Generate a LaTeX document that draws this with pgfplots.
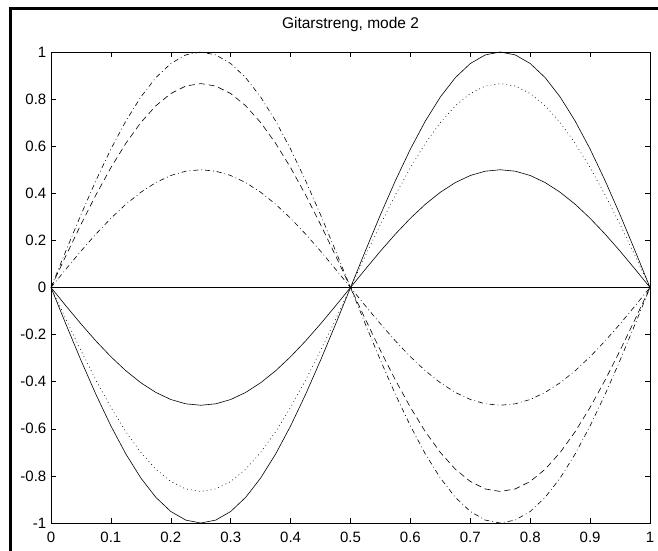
\documentclass[border=0pt]{standalone}
\usepackage{fontspec}
\setmainfont{Liberation Sans}
\usepackage{pgfplots}
\usepackage{pgfplotstable}
\pgfplotsset{compat=1.18}

% Mode 2 of a vibrating string: y = A*sin(2*pi*x) for several amplitudes
% columns: x, +1, +0.866, +0.5, -1, -0.866, -0.5 (times sin(2 pi x))
\pgfplotstableread{
x      a       b       c       d       e       f
0.000  0.0000  0.0000  0.0000  0.0000  0.0000  0.0000
0.025  0.1564  0.1354  0.0782 -0.1564 -0.1354 -0.0782
0.050  0.3090  0.2676  0.1545 -0.3090 -0.2676 -0.1545
0.075  0.4540  0.3932  0.2270 -0.4540 -0.3932 -0.2270
0.100  0.5878  0.5090  0.2939 -0.5878 -0.5090 -0.2939
0.125  0.7071  0.6124  0.3536 -0.7071 -0.6124 -0.3536
0.150  0.8090  0.7006  0.4045 -0.8090 -0.7006 -0.4045
0.175  0.8910  0.7716  0.4455 -0.8910 -0.7716 -0.4455
0.200  0.9511  0.8237  0.4756 -0.9511 -0.8237 -0.4756
0.225  0.9877  0.8554  0.4939 -0.9877 -0.8554 -0.4939
0.250  1.0000  0.8660  0.5000 -1.0000 -0.8660 -0.5000
0.275  0.9877  0.8554  0.4939 -0.9877 -0.8554 -0.4939
0.300  0.9511  0.8237  0.4756 -0.9511 -0.8237 -0.4756
0.325  0.8910  0.7716  0.4455 -0.8910 -0.7716 -0.4455
0.350  0.8090  0.7006  0.4045 -0.8090 -0.7006 -0.4045
0.375  0.7071  0.6124  0.3536 -0.7071 -0.6124 -0.3536
0.400  0.5878  0.5090  0.2939 -0.5878 -0.5090 -0.2939
0.425  0.4540  0.3932  0.2270 -0.4540 -0.3932 -0.2270
0.450  0.3090  0.2676  0.1545 -0.3090 -0.2676 -0.1545
0.475  0.1564  0.1354  0.0782 -0.1564 -0.1354 -0.0782
0.500  0.0000  0.0000  0.0000  0.0000  0.0000  0.0000
0.525 -0.1564 -0.1354 -0.0782  0.1564  0.1354  0.0782
0.550 -0.3090 -0.2676 -0.1545  0.3090  0.2676  0.1545
0.575 -0.4540 -0.3932 -0.2270  0.4540  0.3932  0.2270
0.600 -0.5878 -0.5090 -0.2939  0.5878  0.5090  0.2939
0.625 -0.7071 -0.6124 -0.3536  0.7071  0.6124  0.3536
0.650 -0.8090 -0.7006 -0.4045  0.8090  0.7006  0.4045
0.675 -0.8910 -0.7716 -0.4455  0.8910  0.7716  0.4455
0.700 -0.9511 -0.8237 -0.4756  0.9511  0.8237  0.4756
0.725 -0.9877 -0.8554 -0.4939  0.9877  0.8554  0.4939
0.750 -1.0000 -0.8660 -0.5000  1.0000  0.8660  0.5000
0.775 -0.9877 -0.8554 -0.4939  0.9877  0.8554  0.4939
0.800 -0.9511 -0.8237 -0.4756  0.9511  0.8237  0.4756
0.825 -0.8910 -0.7716 -0.4455  0.8910  0.7716  0.4455
0.850 -0.8090 -0.7006 -0.4045  0.8090  0.7006  0.4045
0.875 -0.7071 -0.6124 -0.3536  0.7071  0.6124  0.3536
0.900 -0.5878 -0.5090 -0.2939  0.5878  0.5090  0.2939
0.925 -0.4540 -0.3932 -0.2270  0.4540  0.3932  0.2270
0.950 -0.3090 -0.2676 -0.1545  0.3090  0.2676  0.1545
0.975 -0.1564 -0.1354 -0.0782  0.1564  0.1354  0.0782
1.000  0.0000  0.0000  0.0000  0.0000  0.0000  0.0000
}\modetwo

\pgfplotstableread{
x y
0 0
1 0
}\restline

\begin{document}
\begin{tikzpicture}[x=1pt,y=1pt]
  \path[use as bounding box] (0,0) rectangle (658,550);
  % figure window edge
  \draw[line width=3pt, line cap=rect] (10.5,0) -- (10.5,541.5) -- (658,541.5);
  \begin{axis}[
    at={(51pt,27pt)}, anchor=south west,
    scale only axis, width=599pt, height=471pt,
    xmin=0, xmax=1, ymin=-1, ymax=1,
    axis line style={line width=0.8pt},
    tick align=inside, major tick length=5pt,
    tick style={black, line width=0.6pt},
    xtick={0,0.1,0.2,0.3,0.4,0.5,0.6,0.7,0.8,0.9,1},
    xticklabels={0,0.1,0.2,0.3,0.4,0.5,0.6,0.7,0.8,0.9,1},
    ytick={-1,-0.8,-0.6,-0.4,-0.2,0,0.2,0.4,0.6,0.8,1},
    yticklabels={-1,-0.8,-0.6,-0.4,-0.2,0,0.2,0.4,0.6,0.8,1},
    /pgf/number format/assume math mode=true,
    ticklabel style={font=\fontsize{15}{17}\selectfont, inner sep=0pt},
    xticklabel style={anchor=north, yshift=-8.5pt},
    yticklabel style={anchor=east, xshift=-4.5pt},
    title={Gitarstreng, mode 2},
    title style={font=\fontsize{15.5}{17}\selectfont, at={(0.5,1)}, anchor=base, yshift=17.5pt, inner sep=0pt},
    clip=false,
  ]
    \addplot[black, line width=0.6pt, dash pattern=on 5pt off 3pt on 0.8pt off 3pt] table[x=x,y=a] {\modetwo};
    \addplot[black, line width=0.6pt, dash pattern=on 6pt off 4pt] table[x=x,y=b] {\modetwo};
    \addplot[black, line width=0.6pt, dash pattern=on 5pt off 3pt on 0.8pt off 3pt] table[x=x,y=c] {\modetwo};
    \addplot[black, line width=0.6pt] table[x=x,y=d] {\modetwo};
    \addplot[black, line width=0.6pt, dash pattern=on 0.8pt off 3.2pt] table[x=x,y=e] {\modetwo};
    \addplot[black, line width=0.6pt] table[x=x,y=f] {\modetwo};
    \addplot[black, line width=0.6pt] table[x=x,y=y] {\restline};
  \end{axis}
\end{tikzpicture}
\end{document}
